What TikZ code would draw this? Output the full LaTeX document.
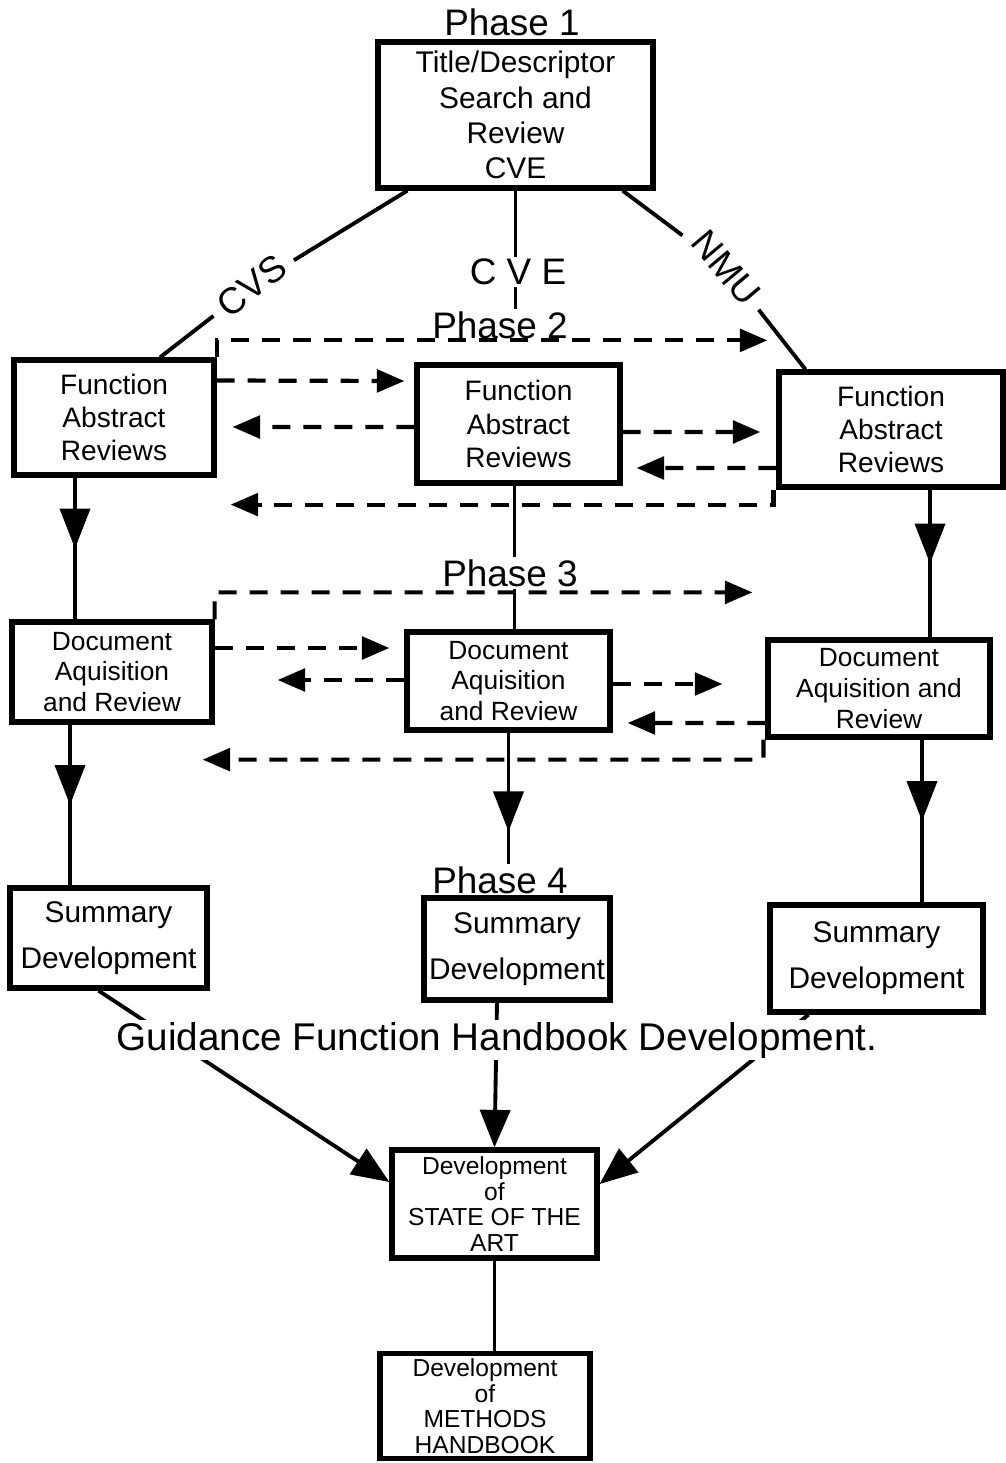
\documentclass[tikz,border=0pt]{standalone}
\usepackage{fontspec}
\setmainfont{Liberation Sans}
\usetikzlibrary{arrows.meta,positioning,calc,decorations.markings}

\tikzset{
  box/.style={draw,line width=3pt,align=center,inner sep=2pt,font=\fontsize{16}{19}\selectfont},
  docbox/.style={box,font=\fontsize{15}{17.5}\selectfont},
  sumbox/.style={box,font=\fontsize{17}{26}\selectfont},
  smallbox/.style={box,font=\fontsize{14}{14.5}\selectfont},
  phase/.style={font=\fontsize{21}{24}\selectfont,inner sep=1pt},
  branch/.style={phase,inner sep=6pt},
  link/.style={line width=2.2pt},
  flow/.style={link,-{Triangle[width=0.6cm,length=0.75cm]}},
  midflow/.style={link,postaction={decorate},
    decoration={markings,mark=at position #1 with {\arrow{Triangle[width=0.6cm,length=0.8cm]}}}},
  midflow/.default=0.5,
  dasharr/.style={line width=2.4pt,dash pattern=on 0.36cm off 0.26cm,-{Triangle[width=0.45cm,length=0.55cm]}},
}

\begin{document}
\begin{tikzpicture}[x=0.02cm,y=-0.02cm]
  \useasboundingbox (0,0) rectangle (1005,1463);

  % phase 1
  \node[phase] (ph1) at (512,22) {Phase 1};
  \node[box,font=\fontsize{17}{20}\selectfont,minimum width=5.5cm,minimum height=2.92cm] (p1) at (515.5,115) {Title/Descriptor\\Search and\\Review\\CVE};

  % labels on the three branches
  \node[branch,rotate=38] (cvs) at (252,286) {CVS};
  \node[phase] (cve) at (518,272) {C V E};
  \node[branch,rotate=-50] (nmu) at (726,268) {NMU};
  \node[phase] (ph2) at (500,325) {Phase 2};

  % phase 2
  \node[box,minimum width=4cm,minimum height=2.3cm] (fl) at (114,417.5) {Function\\Abstract\\Reviews};
  \node[box,minimum width=4.06cm,minimum height=2.36cm] (fc) at (518.5,424) {Function\\Abstract\\Reviews};
  \node[box,minimum width=4.48cm,minimum height=2.3cm] (fr) at (891,429.5) {Function\\Abstract\\Reviews};

  % phase 3
  \node[phase] (ph3) at (510,573) {Phase 3};
  \node[docbox,minimum width=4cm,minimum height=2cm] (dl) at (112,672) {Document\\Aquisition\\and Review};
  \node[docbox,minimum width=4.06cm,minimum height=1.96cm] (dc) at (508.5,681) {Document\\Aquisition\\and Review};
  \node[docbox,minimum width=4.44cm,minimum height=1.94cm] (dr) at (879,688.5) {Document\\Aquisition and\\Review};

  % phase 4
  \node[phase] (ph4) at (500,880) {Phase 4};
  \node[sumbox,minimum width=3.94cm,minimum height=2cm] (sl) at (108.5,938) {Summary\\Development};
  \node[sumbox,minimum width=3.72cm,minimum height=2.04cm] (sc) at (517,949) {Summary\\Development};
  \node[sumbox,minimum width=4.26cm,minimum height=2.14cm] (sr) at (876.5,958.5) {Summary\\Development};

  \node[smallbox,minimum width=4.1cm,minimum height=2.16cm] (soa) at (494.5,1204) {Development\\of\\STATE OF THE\\ART};
  \node[smallbox,minimum width=4.2cm,minimum height=2.1cm] (mhb) at (485,1406) {Development\\of\\METHODS\\HANDBOOK};

  % branches from phase 1
  \draw[link] ([shift={(32,0)}]p1.south west) -- (cvs) -- ([shift={(46,0)}]fl.north);
  \draw[link] (p1.south) -- (p1.south |- cve.north);
  \draw[link] (p1.south |- cve.south) -- (p1.south |- ph2.north);
  \draw[link] ([shift={(-33,0)}]p1.south east) -- (nmu) -- ([shift={(29,0)}]fr.north west);

  % exchange between the phase 2 reviews
  \draw[dasharr] (fl.north east) -- ++(0,-17) -- ([shift={(-9,-29)}]fr.north west);
  \draw[dasharr] ([shift={(0,-37)}]fl.east) -- ([shift={(-10,-43)}]fc.west);
  \draw[dasharr] ([shift={(0,3)}]fc.west) -- ([shift={(16,9.5)}]fl.east);
  \draw[dasharr] ([shift={(0,8)}]fc.east) -- ([shift={(-16,2.5)}]fr.west);
  \draw[dasharr] ([shift={(0,38.5)}]fr.west) -- ([shift={(14,44)}]fc.east);
  \draw[dasharr] ([shift={(-3,0)}]fr.south west) -- ++(0,15) -- ([shift={(14,27)}]fl.south east);

  % down to phase 3
  \draw[midflow] ([shift={(-39,0)}]fl.south) -- ([shift={(-37,0)}]dl.north);
  \draw[link] ([shift={(-4,0)}]fc.south) -- ([shift={(-4,0)}]fc.south |- ph3.north);
  \draw[link] ([shift={(-4,0)}]fc.south |- ph3.south) -- ([shift={(-4,0)}]fc.south |- dc.north);
  \draw[midflow] ([shift={(39,0)}]fr.south) -- ([shift={(51,0)}]dr.north);

  % exchange between the phase 3 reviews
  \draw[dasharr] (dl.north east) -- ++(0,-27) -- ([shift={(-13,-45)}]dr.north west);
  \draw[dasharr] ([shift={(0,-24)}]dl.east) -- ([shift={(-15,-33)}]dc.west);
  \draw[dasharr] ([shift={(0,-1)}]dc.west) -- ([shift={(63,8)}]dl.east);
  \draw[dasharr] ([shift={(0,3)}]dc.east) -- ([shift={(-43,-4.5)}]dr.west);
  \draw[dasharr] ([shift={(0,34.5)}]dr.west) -- ([shift={(15,42)}]dc.east);
  \draw[dasharr] ([shift={(-2,0)}]dr.south west) -- ++(0,20) -- ([shift={(-12,35)}]dl.south east);

  % down to phase 4
  \draw[midflow] ([shift={(-42,0)}]dl.south) -- ([shift={(-38.5,0)}]sl.north);
  \draw[midflow=0.75] (dc.south) -- (dc.south |- ph4.north);
  \draw[midflow] ([shift={(43,0)}]dr.south) -- ([shift={(45.5,0)}]sr.north);

  % into the state of the art
  \draw[flow] ([shift={(-10,0)}]sl.south) -- ([shift={(0,-22)}]soa.west);
  \draw[flow] ([shift={(-20,0)}]sc.south) -- (soa.north);
  \draw[flow] ([shift={(-68,0)}]sr.south) -- ([shift={(0,-20)}]soa.east);
  \draw[link] (soa.south) -- (soa.south |- mhb.north);

  \node[fill=white,inner sep=1pt,font=\fontsize{22}{24}\selectfont] (guide) at (497,1040) {Guidance Function Handbook Development.};
\end{tikzpicture}
\end{document}
